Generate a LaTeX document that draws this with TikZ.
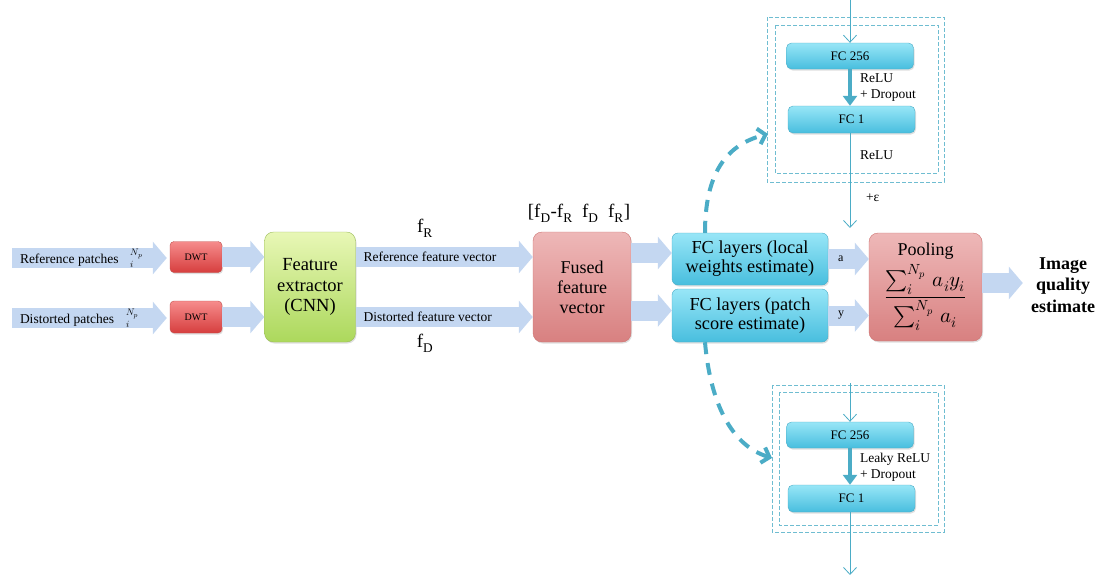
\documentclass[tikz,border=0pt]{standalone}
\usepackage{amsmath}
\usepackage{fontspec}
\usepackage{unicode-math}
\setmainfont{Liberation Serif}
\setmathfont{Latin Modern Math}
\usepackage{tikz}
\usetikzlibrary{arrows.meta}
\usetikzlibrary{shadows}
\usetikzlibrary{calc}
\definecolor{arrowblue}{RGB}{196,215,241}
\definecolor{linecyan}{RGB}{75,172,198}
\definecolor{fctop}{RGB}{152,230,247}
\definecolor{fcbot}{RGB}{72,190,222}
\definecolor{greentop}{RGB}{232,247,182}
\definecolor{greenbot}{RGB}{172,216,92}
\definecolor{greenline}{RGB}{155,187,89}
\definecolor{pinktop}{RGB}{238,184,184}
\definecolor{pinkbot}{RGB}{216,128,128}
\definecolor{pinkline}{RGB}{192,80,77}
\definecolor{dwttop}{RGB}{246,140,140}
\definecolor{dwtbot}{RGB}{214,62,62}
\tikzset{ shade_box/.style = {rectangle, rounded corners=9pt, align=center, inner sep=0pt,
    drop shadow={opacity=0.25, shadow xshift=1pt, shadow yshift=-1.5pt}} }
\tikzset{ green_box/.style = {shade_box, draw=greenline, top color=greentop, bottom color=greenbot,
    minimum width=91pt, minimum height=110pt, font=\fontsize{18.5}{20.5}\selectfont} }
\tikzset{ pink_box/.style = {shade_box, draw=pinkline!80, top color=pinktop, bottom color=pinkbot,
    minimum height=110pt, font=\fontsize{18}{20}\selectfont} }
\tikzset{ dwt_box/.style = {shade_box, rounded corners=4pt, draw=pinkline, top color=dwttop, bottom color=dwtbot,
    minimum width=52pt, minimum height=31pt, font=\fontsize{10}{11}\selectfont} }
\tikzset{ fc_big/.style = {shade_box, rounded corners=6pt, draw=linecyan, top color=fctop, bottom color=fcbot,
    minimum width=156pt, minimum height=52pt, font=\fontsize{18.3}{19}\selectfont} }
\tikzset{ fc_small/.style = {shade_box, rounded corners=5pt, draw=linecyan, top color=fctop, bottom color=fcbot,
    minimum width=127pt, minimum height=26pt, font=\fontsize{13}{14}\selectfont} }
\tikzset{ fat/.style = {draw=arrowblue, line width=20pt, -{Triangle[length=14pt,width=32pt]}} }
\tikzset{ thin_arr/.style = {draw=linecyan, line width=1pt, -{Straight Barb[length=7pt,width=13pt,line width=0.8pt]}} }
\tikzset{ thick_arr/.style = {draw=linecyan, line width=4pt, -{Triangle[length=10pt,width=14pt]}} }
\tikzset{ dash_box/.style = {draw=linecyan!80, line width=0.8pt, dash pattern=on 4pt off 2pt} }
\tikzset{ curve_arr/.style = {draw=linecyan, line width=4pt, dash pattern=on 12pt off 9pt,
    -{Straight Barb[length=7pt,width=16pt]}} }
\tikzset{ lbl/.style = {font=\fontsize{13.5}{16}\selectfont, inner sep=0pt, outer sep=0pt} }
\tikzset{ flbl/.style = {font=\fontsize{19}{21}\selectfont, inner sep=0pt} }

\begin{document}
\begin{tikzpicture}[x=1pt,y=-1pt]
\useasboundingbox (0,0) rectangle (1109,576);
% main blocks
\node[dwt_box] (dwtR) at (196,257) {DWT};
\node[dwt_box, minimum height=32pt] (dwtD) at (196,317) {DWT};
\node[green_box] (fe) at (310,287) {Feature\\extractor\\(CNN)};
\node[pink_box, minimum width=98pt] (fused) at (582,287) {Fused\\feature\\vector};
\node[fc_big] (fcw) at (750,259) {FC layers (local\\weights estimate)};
\node[fc_big, minimum height=53pt] (fcs) at (750,315.5) {FC layers (patch\\score estimate)};
\node[pink_box, minimum width=113pt, minimum height=108pt] (pool) at (925.5,287)
    {Pooling\\[4pt] {\fontsize{21}{23}\selectfont
     $\displaystyle\frac{\sum_i^{N_p}\, a_i y_i}{\sum_i^{N_p}\, a_i}$}};
\node[align=center, inner sep=0pt, font=\bfseries\fontsize{18}{21.5}\selectfont] (est) at (1063,285)
    {Image\\quality\\estimate};

% inputs
\coordinate (inR) at (12,258);
\coordinate (inD) at (12,318);
\draw[fat, shorten >=3pt] (inR) -- (dwtR.west |- inR)
    node[lbl, pos=0, anchor=west, xshift=8pt] {Reference patches\hspace{12pt}${}^{N_p}_{i}$};
\draw[fat, shorten >=3pt] (inD) -- (dwtD.west |- inD)
    node[lbl, pos=0, anchor=west, xshift=8pt] {Distorted patches\hspace{12pt}${}^{N_p}_{i}$};
\draw[fat] (dwtR.east) -- (fe.west |- dwtR.east);
\draw[fat] (dwtD.east) -- (fe.west |- dwtD.east);

% feature vectors
\draw[fat] (fe.east |- dwtR.east) -- (fused.west |- dwtR.east)
    node[lbl, pos=0, anchor=west, xshift=8pt] {Reference feature vector};
\draw[fat] (fe.east |- dwtD.east) -- (fused.west |- dwtD.east)
    node[lbl, pos=0, anchor=west, xshift=8pt] {Distorted feature vector};
\node[flbl] (fR) at (425,228) {f\textsubscript{R}};
\node[flbl] (fD) at (425,343) {f\textsubscript{D}};
\node[flbl] (cat) at (579,213) {[f\textsubscript{D}-f\textsubscript{R}\ \ f\textsubscript{D}\ \ f\textsubscript{R}]};

% to the FC layers and pooling
\coordinate (wIn) at ([yshift=6pt]fcw.west);
\coordinate (sIn) at ([yshift=5pt]fcs.west);
\draw[fat] (wIn -| fused.east) -- (wIn);
\draw[fat] (sIn -| fused.east) -- (sIn);
\draw[fat] (fcw.east) -- (pool.west |- fcw.east)
    node[lbl, font=\fontsize{12}{13}\selectfont, pos=0, anchor=west, xshift=10pt] {a};
\draw[fat] (fcs.east) -- (pool.west |- fcs.east)
    node[lbl, font=\fontsize{12}{13}\selectfont, pos=0, anchor=west, xshift=10pt] {y};
\coordinate (poolOut) at ([yshift=4pt]pool.east);
\draw[fat, shorten >=8pt] (poolOut) -- (poolOut -| est.west);

% weights branch
\draw[dash_box] (767,17) rectangle (944,182);
\draw[dash_box] (775,25) rectangle (938,173);
\node[fc_small] (fc256) at (850,56) {FC 256};
\node[fc_small, minimum height=27pt] (fc1) at (851.5,119.5) {FC 1};
\coordinate (topIn) at (850,0);
\coordinate (topOut) at (850,228);
\draw[thin_arr] (topIn) -- (fc256.north);
\draw[thick_arr] (fc256.south) -- (fc256.south |- fc1.north);
\draw[thin_arr] (fc256.south |- fc1.south) -- (topOut);
\node[lbl, anchor=west, align=left] (relu1) at (860,88) {ReLU\\+ Dropout};
\node[lbl, anchor=west] (relu2) at (860,155) {ReLU};
\node[lbl, anchor=west] (eps) at (866,198) {+ε};

% score branch
\draw[dash_box] (772,385) rectangle (944,532);
\draw[dash_box] (779,392) rectangle (938,525);
\node[fc_small] (fc256b) at (850,435) {FC 256};
\node[fc_small, minimum height=27pt] (fc1b) at (851.5,498.5) {FC 1};
\coordinate (botIn) at (850,383);
\coordinate (botOut) at (850,575);
\draw[thin_arr] (botIn) -- (fc256b.north);
\draw[thick_arr] (fc256b.south) -- (fc256b.south |- fc1b.north);
\draw[thin_arr] (fc256b.south |- fc1b.south) -- (botOut);
\node[lbl, anchor=west, align=left] (relu3) at (860,467) {Leaky ReLU\\+ Dropout};

% dashed links
\coordinate (wTop) at ([xshift=-45pt]fcw.north);
\coordinate (sBot) at ([xshift=-45pt]fcs.south);
\coordinate (topTip) at (768,134);
\coordinate (botTip) at (772,458);
\draw[curve_arr] (wTop) .. controls (705,175) and (725,145) .. (topTip);
\draw[curve_arr] (sBot) .. controls (710,400) and (730,445) .. (botTip);
\end{tikzpicture}
\end{document}
